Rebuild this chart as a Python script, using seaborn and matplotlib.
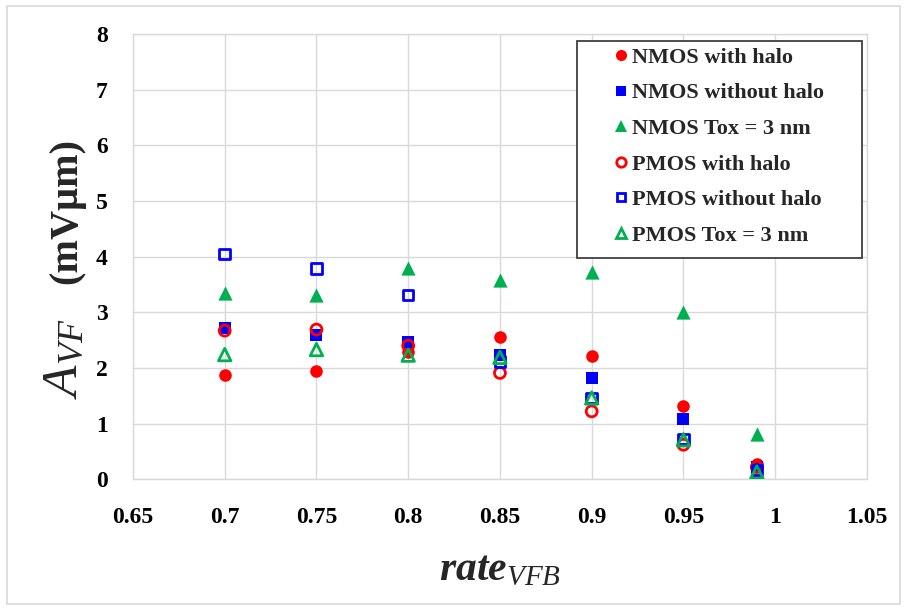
import matplotlib
matplotlib.use("Agg")
import matplotlib.pyplot as plt
import seaborn as sns
import pandas as pd
from matplotlib.patches import Rectangle
from matplotlib.lines import Line2D

# Data
rate_vfb = [0.7, 0.75, 0.8, 0.85, 0.9, 0.95, 0.99]
nmos_with_halo = [1.87, 1.94, 2.28, 2.55, 2.22, 1.32, 0.27]
nmos_without_halo = [2.71, 2.60, 2.46, 2.24, 1.82, 1.08, 0.22]
nmos_tox3 = [3.35, 3.31, 3.80, 3.58, 3.73, 3.00, 0.82]
pmos_with_halo = [2.67, 2.69, 2.40, 1.91, 1.22, 0.62, 0.22]
pmos_without_halo = [4.05, 3.79, 3.31, 2.12, 1.46, 0.72, 0.17]
pmos_tox3 = [2.24, 2.33, 2.23, 2.19, 1.46, 0.71, 0.13]

series_labels = ["NMOS with halo", "NMOS without halo", "NMOS Tox = 3 nm",
                 "PMOS with halo", "PMOS without halo", "PMOS Tox = 3 nm"]
xticks = [0.65, 0.7, 0.75, 0.8, 0.85, 0.9, 0.95, 1.0, 1.05]
xtick_labels = ["0.65", "0.7", "0.75", "0.8", "0.85", "0.9", "0.95", "1", "1.05"]
yticks = [0, 1, 2, 3, 4, 5, 6, 7, 8]

sns.set_theme(style="white")
plt.rcParams["font.family"] = ["Liberation Serif", "DejaVu Serif"]
plt.rcParams["mathtext.fontset"] = "custom"
plt.rcParams["mathtext.rm"] = "Liberation Serif"
plt.rcParams["mathtext.it"] = "Liberation Serif:italic"
plt.rcParams["mathtext.bf"] = "Liberation Serif:bold"
plt.rcParams["mathtext.bfit"] = "Liberation Serif:italic:bold"

RED, BLUE, GREEN = "#ff0000", "#0000ff", "#00b050"
styles = [
    dict(marker="o", color=RED, filled=True, s=82),
    dict(marker="s", color=BLUE, filled=True, s=70),
    dict(marker="^", color=GREEN, filled=True, s=105),
    dict(marker="o", color=RED, filled=False, s=62),
    dict(marker="s", color=BLUE, filled=False, s=58),
    dict(marker="^", color=GREEN, filled=False, s=80),
]
values = [nmos_with_halo, nmos_without_halo, nmos_tox3,
          pmos_with_halo, pmos_without_halo, pmos_tox3]

fig = plt.figure(figsize=(9.07, 6.10), dpi=100)
ax = fig.add_axes([0.1466, 0.2143, 0.8092, 0.7300])

for label, vals, st in zip(series_labels, values, styles):
    df = pd.DataFrame({"rate": rate_vfb, "A": vals})
    if st["filled"]:
        sns.scatterplot(data=df, x="rate", y="A", ax=ax, marker=st["marker"],
                        color=st["color"], edgecolor=st["color"], linewidth=0,
                        s=st["s"], zorder=3, legend=False)
    else:
        sns.scatterplot(data=df, x="rate", y="A", ax=ax, marker=st["marker"],
                        facecolor="none", edgecolor=st["color"], linewidth=2.0,
                        s=st["s"], zorder=3, legend=False)

ax.set_xlim(0.65, 1.05)
ax.set_ylim(0, 8)
ax.set_xticks(xticks)
ax.set_xticklabels(xtick_labels)
ax.set_yticks(yticks)
ax.grid(True, color="#d9d9d9", linewidth=1.0)
ax.set_axisbelow(True)
for sp in ax.spines.values():
    sp.set_color("#d9d9d9")
    sp.set_linewidth(1.0)
ax.tick_params(axis="both", length=0, labelsize=17, colors="black")
ax.tick_params(axis="y", pad=18)
ax.tick_params(axis="x", pad=20)
for t in ax.get_xticklabels() + ax.get_yticklabels():
    t.set_fontweight("bold")

ax.set_xlabel("")
ax.set_ylabel("")

# Axis titles
fig.text(0.551, 0.066, r"$\mathbfit{rate}_{\mathit{VFB}}$", fontsize=30,
         ha="center", va="center")
fig.text(0.072, 0.412, r"$\mathit{A}_{\mathit{VF}}$", fontsize=37,
         rotation=90, ha="center", va="center")
fig.text(0.074, 0.654, "(mVμm)", fontsize=29, fontweight="bold",
         rotation=90, ha="center", va="center")

# Legend
handles = []
for label, st in zip(series_labels, styles):
    ms = {"o": 8.0, "s": 7.2, "^": 9.0}[st["marker"]]
    if not st["filled"]:
        ms *= 0.85
    handles.append(Line2D([], [], linestyle="none", marker=st["marker"],
                          markersize=ms,
                          markerfacecolor=st["color"] if st["filled"] else "none",
                          markeredgecolor=st["color"],
                          markeredgewidth=0 if st["filled"] else 2.0,
                          label=label))
leg = ax.legend(handles=handles, loc="upper left",
                bbox_to_anchor=(0.645, 0.985), frameon=False,
                prop={"family": "Liberation Serif", "weight": "bold", "size": 16},
                handlelength=0.7, handletextpad=0.15, labelspacing=0.675,
                borderaxespad=0, borderpad=0.3)
ax.add_patch(Rectangle((0.605, 0.497), 0.388, 0.487, transform=ax.transAxes,
                       facecolor="white", edgecolor="#404040", linewidth=1.3,
                       zorder=4, clip_on=False))
leg.set_zorder(5)

# Chart border
fig.patches.append(Rectangle((0.008, 0.01), 0.984, 0.98, transform=fig.transFigure,
                             facecolor="none", edgecolor="#d9d9d9", linewidth=1.2))

fig.savefig("out.png", dpi=100, facecolor="white")
